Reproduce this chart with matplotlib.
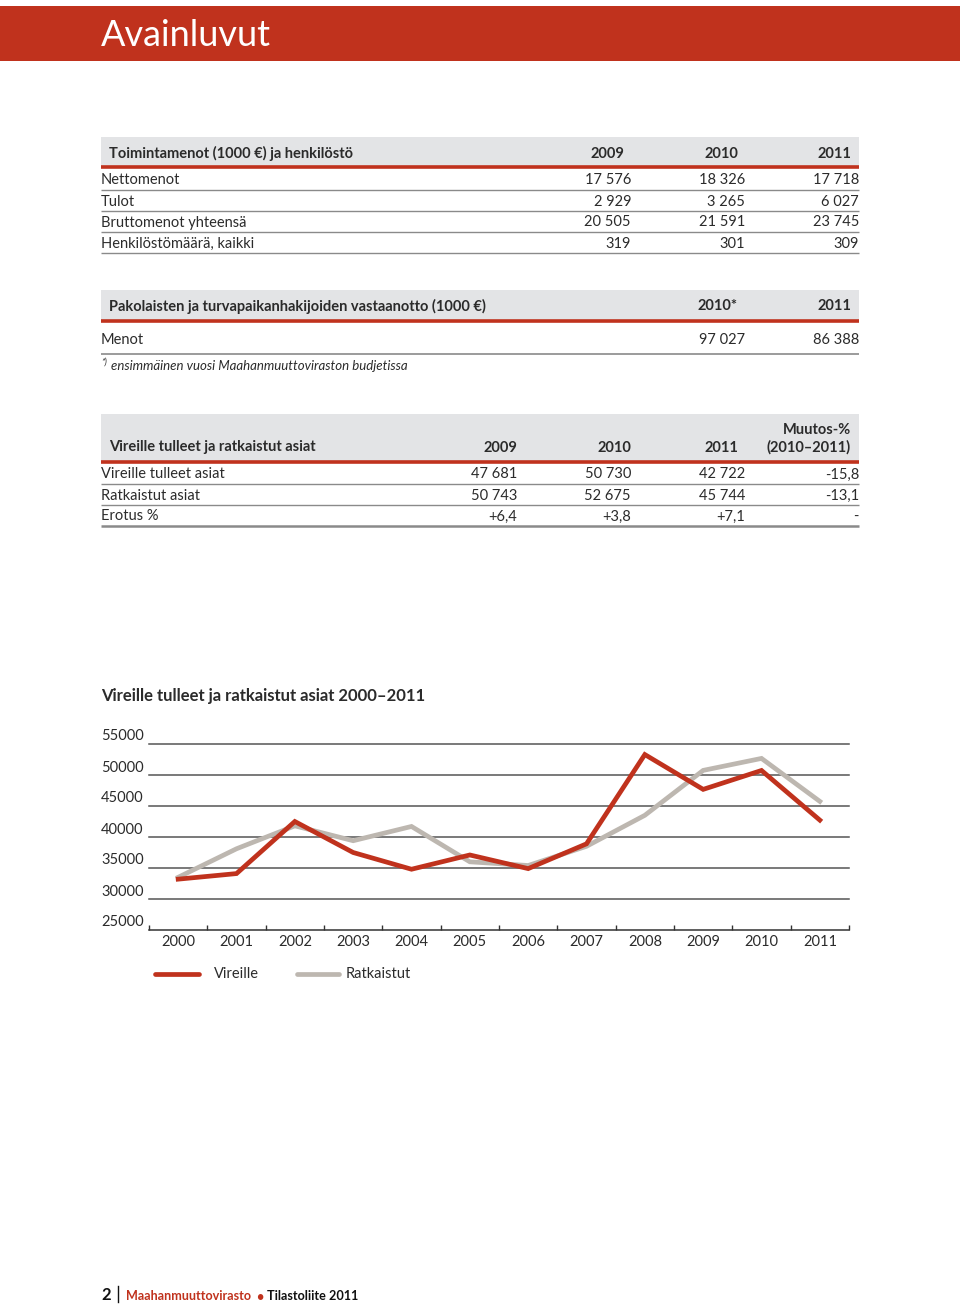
import matplotlib
matplotlib.use("Agg")
import matplotlib.pyplot as plt
from matplotlib.patches import Rectangle
from matplotlib.lines import Line2D
from matplotlib.transforms import blended_transform_factory, ScaledTranslation

plt.rcParams['font.family'] = ['Lato', 'DejaVu Sans']

# ---------------- data ----------------
page_title = "Avainluvut"

t1_title = "Toimintamenot (1000 €) ja henkilöstö"
t1_cols = ["2009", "2010", "2011"]
t1_rows = ["Nettomenot", "Tulot", "Bruttomenot yhteensä", "Henkilöstömäärä, kaikki"]
t1_vals = [["17 576", "18 326", "17 718"],
           ["2 929", "3 265", "6 027"],
           ["20 505", "21 591", "23 745"],
           ["319", "301", "309"]]

t2_title = "Pakolaisten ja turvapaikanhakijoiden vastaanotto (1000 €)"
t2_cols = ["2010*", "2011"]
t2_rows = ["Menot"]
t2_vals = [["97 027", "86 388"]]
t2_note = "ensimmäinen vuosi Maahanmuuttoviraston budjetissa"

t3_title = "Vireille tulleet ja ratkaistut asiat"
t3_cols = ["2009", "2010", "2011", "(2010–2011)"]
t3_col4_top = "Muutos-%"
t3_rows = ["Vireille tulleet asiat", "Ratkaistut asiat", "Erotus %"]
t3_vals = [["47 681", "50 730", "42 722", "-15,8"],
           ["50 743", "52 675", "45 744", "-13,1"],
           ["+6,4", "+3,8", "+7,1", "-"]]

chart_title = "Vireille tulleet ja ratkaistut asiat 2000–2011"
years = ["2000", "2001", "2002", "2003", "2004", "2005",
         "2006", "2007", "2008", "2009", "2010", "2011"]
vireille = [33200, 34100, 42500, 37500, 34800, 37100,
            34900, 38900, 53300, 47681, 50730, 42722]
ratkaistut = [33500, 38100, 41800, 39400, 41700, 36000,
              35400, 38500, 43500, 50743, 52675, 45744]
yticks = [25000, 30000, 35000, 40000, 45000, 50000, 55000]
legend_labels = ["Vireille", "Ratkaistut"]

# ---------------- style ----------------
RED = "#C0321D"
GRAY_LINE = "#BDB7B0"
BAND = "#E3E4E6"
TXT = "#2b2b2b"
RULE = "#8a8a8a"
DY = 1.5  # text baseline nudge (px)

W, H = 960, 1304
fig = plt.figure(figsize=(W / 100, H / 100), dpi=100)
bg = fig.add_axes([0, 0, 1, 1])
bg.set_xlim(0, W)
bg.set_ylim(H, 0)
bg.axis("off")

def txt(x, y, s, ha="left", size=10.5, weight="normal", color=TXT, style="normal", **kw):
    bg.text(x, y + DY, s, ha=ha, va="center", fontsize=size, fontweight=weight,
            color=color, fontstyle=style, **kw)

def hline(y, x0=101, x1=859, color=RULE, lw=1.0):
    bg.add_line(Line2D([x0, x1], [y, y], color=color, lw=lw, solid_capstyle="butt"))

# header band
bg.add_patch(Rectangle((0, 6), W, 55, color=RED, lw=0))
txt(101, 34, page_title, size=26, color="white", weight="normal")

# ---- table 1 ----
bg.add_patch(Rectangle((101, 137), 758, 30, color=BAND, lw=0))
hline(167, color=RED, lw=2.6)
txt(109, 152, t1_title, size=10.5, weight="bold")
for x, c in zip([624, 738, 851], t1_cols):
    txt(x, 152, c, ha="right", size=10.5, weight="bold")
for i, (r, vals) in enumerate(zip(t1_rows, t1_vals)):
    y = 179 + 21 * i
    txt(101, y, r)
    for x, v in zip([631, 745, 859], vals):
        txt(x, y, v, ha="right")
    hline(y + 10.5)

# ---- table 2 ----
bg.add_patch(Rectangle((101, 290), 758, 30, color=BAND, lw=0))
hline(320.5, color=RED, lw=2.6)
txt(109, 305, t2_title, size=10.5, weight="bold")
for x, c in zip([738, 851], t2_cols):
    txt(x, 305, c, ha="right", size=10.5, weight="bold")
for i, (r, vals) in enumerate(zip(t2_rows, t2_vals)):
    y = 338 + 21 * i
    txt(101, y, r)
    for x, v in zip([745, 859], vals):
        txt(x, y, v, ha="right")
    hline(y + 16, lw=1.2)
txt(101, 361, "*)", size=6.5, style="italic")
txt(111, 364, t2_note, size=9.5, style="italic")

# ---- table 3 ----
bg.add_patch(Rectangle((101, 414), 758, 47, color=BAND, lw=0))
hline(461.5, color=RED, lw=2.6)
txt(109, 446, t3_title, size=10.5, weight="bold")
txt(851, 429, t3_col4_top, ha="right", size=10.5, weight="bold")
for x, c in zip([517, 631, 738, 851], t3_cols):
    txt(x, 446, c, ha="right", size=10.5, weight="bold")
for i, (r, vals) in enumerate(zip(t3_rows, t3_vals)):
    y = 473 + 21 * i
    txt(101, y, r)
    for x, v in zip([517, 631, 745, 859], vals):
        txt(x, y, v, ha="right")
    hline(y + 10.5, lw=1.0 if i < len(t3_rows) - 1 else 1.8)

# ---- chart ----
txt(101, 695, chart_title, size=12, weight="bold")

ax_l, ax_r, ax_top, ax_bot = 149, 849, 744, 930
ax = fig.add_axes([ax_l / W, 1 - ax_bot / H, (ax_r - ax_l) / W, (ax_bot - ax_top) / H])
ax.set_xlim(-0.5, len(years) - 0.5)
ax.set_ylim(yticks[0], yticks[-1])
ax.patch.set_alpha(0)
for v in yticks[1:]:
    ax.axhline(v, color="#555555", lw=1.1, zorder=1, clip_on=False)
xs = list(range(len(years)))
ax.plot(xs, ratkaistut, color=GRAY_LINE, lw=3.4, zorder=3, solid_joinstyle="miter")
ax.plot(xs, vireille, color=RED, lw=3.4, zorder=4, solid_joinstyle="miter")

for s in ["top", "left", "right"]:
    ax.spines[s].set_visible(False)
ax.spines["bottom"].set_color("#333333")
ax.spines["bottom"].set_linewidth(1.1)
ax.set_yticks([])
ax.set_xticks(xs)
ax.set_xticklabels(years, fontsize=10.5, color=TXT)
ax.tick_params(axis="x", which="major", length=0, pad=3.5)
ax.set_xticks([i - 0.5 for i in range(len(years) + 1)], minor=True)
ax.tick_params(axis="x", which="minor", direction="in", length=3.5, width=1.0, color="#333333")

tr = blended_transform_factory(fig.transFigure, ax.transData) + ScaledTranslation(0, 0.075, fig.dpi_scale_trans)
for v in yticks:
    ax.text(101 / W, v, str(v), transform=tr, ha="left", va="center", fontsize=10.5, color=TXT)

# legend
bg.add_line(Line2D([155, 199], [974, 974], color=RED, lw=3.4, solid_capstyle="round"))
txt(214, 973, legend_labels[0])
bg.add_line(Line2D([297, 339], [974, 974], color=GRAY_LINE, lw=3.4, solid_capstyle="round"))
txt(346, 973, legend_labels[1])

# footer
txt(101, 1294, "2", size=12, weight="bold", color="#111111")
bg.add_line(Line2D([118, 118], [1286, 1302], color="#111111", lw=1.0))
txt(126, 1295, "Maahanmuuttovirasto", size=9.1, weight="bold", color=RED)
txt(259.5, 1295, "•", ha="center", size=9, weight="bold", color=RED)
txt(267, 1295, "Tilastoliite 2011", size=9.1, weight="bold", color="#111111")

fig.savefig("out.png", dpi=100)
